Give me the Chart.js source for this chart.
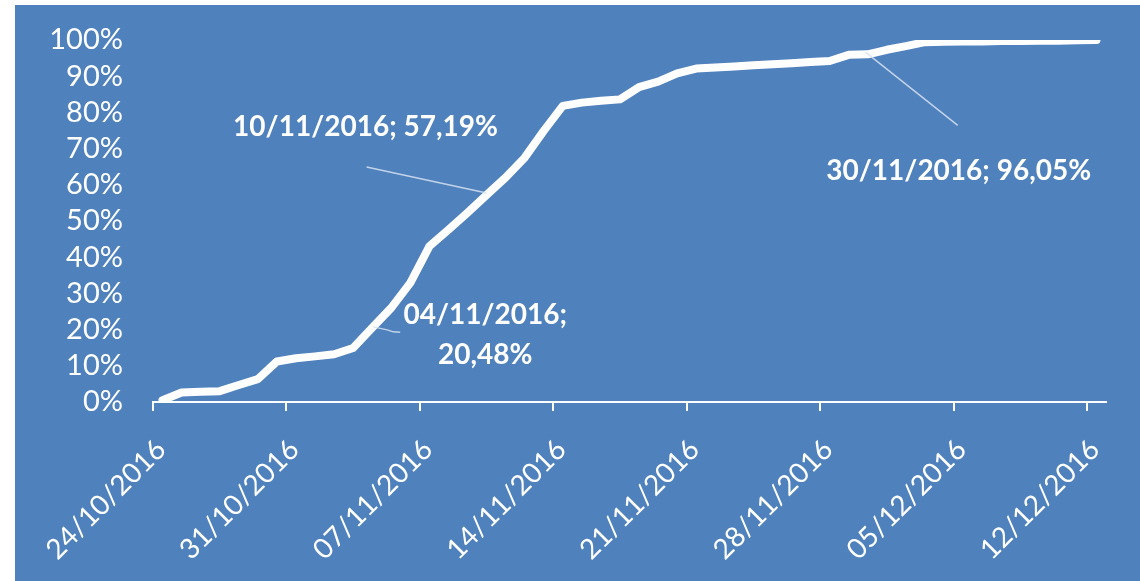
<!DOCTYPE html>
<html>
<head>
<meta charset="utf-8">
<script src="https://cdn.jsdelivr.net/npm/chart.js@4"></script>
<style>
  html, body { margin: 0; padding: 0; background: #ffffff; }
  #box { position: absolute; left: 15px; top: 5px; width: 1125px; height: 576px; background: #4f81bd; }
  canvas { display: block; }
</style>
</head>
<body>
<div id="box"><canvas id="chart" width="1125" height="576"></canvas></div>
<script>
// cumulative share, one value per day starting 24/10/2016
const values = [
    0.5, 2.6, 2.8, 3.0, 4.7, 6.3, 11.2, 12.1, 12.6, 13.2,
    14.9, 20.48, 26.0, 32.9, 43.0, 47.6, 52.3, 57.19, 62.0, 67.5,
    74.9, 81.8, 82.7, 83.2, 83.6, 87.0, 88.5, 90.8, 92.1, 92.4,
    92.7, 93.0, 93.3, 93.6, 93.9, 94.2, 95.9, 96.05, 97.3, 98.3,
    99.4, 99.5, 99.6, 99.6, 99.7, 99.7, 99.8, 99.8, 99.9, 100
];
const tickLabels = ['24/10/2016', '31/10/2016', '07/11/2016', '14/11/2016',
    '21/11/2016', '28/11/2016', '05/12/2016', '12/12/2016'];
const yTicks = [0, 10, 20, 30, 40, 50, 60, 70, 80, 90, 100];

// data labels: day index, text lines
const notes = [
    { day: 17, lines: ['10/11/2016; 57,19%'] },
    { day: 37, lines: ['30/11/2016; 96,05%'] },
    { day: 11, lines: ['04/11/2016;', '20,48%'] }
];
// where each label sits relative to its point
const noteStyle = {
    17: { text: [[-121, -68]], leader: [[-120, -28], [0, -2]] },
    37: { text: [[91, 117]], leader: [[90, 71], [-2, -2]] },
    11: { text: [[113, -13], [113, 27]], leader: [[1, -1], [15, 2], [21, 4], [28, 4.5]] }
};

const labelPlugin = {
    id: 'notes',
    afterDatasetsDraw(chart) {
        const ctx = chart.ctx;
        const xs = chart.scales.x, ys = chart.scales.y;
        ctx.save();
        notes.forEach(n => {
            const px = xs.getPixelForValue(n.day + 0.5);
            const py = ys.getPixelForValue(values[n.day]);
            const st = noteStyle[n.day];
            ctx.strokeStyle = 'rgba(215,226,240,0.85)';
            ctx.lineWidth = 1.5;
            ctx.beginPath();
            st.leader.forEach((p, i) => {
                if (i === 0) ctx.moveTo(px + p[0], py + p[1]);
                else ctx.lineTo(px + p[0], py + p[1]);
            });
            ctx.stroke();
            ctx.fillStyle = '#ffffff';
            ctx.font = 'bold 28px Lato';
            ctx.textAlign = 'center';
            ctx.textBaseline = 'middle';
            n.lines.forEach((t, i) => {
                ctx.fillText(t, px + st.text[i][0], py + st.text[i][1]);
            });
        });
        ctx.restore();
    }
};

new Chart(document.getElementById('chart'), {
    type: 'line',
    data: {
        datasets: [{
            data: values.map((v, i) => ({ x: i + 0.5, y: v })),
            borderColor: '#ffffff',
            borderWidth: 8,
            borderCapStyle: 'round',
            borderJoinStyle: 'round',
            pointRadius: 0,
            tension: 0,
            fill: false
        }]
    },
    options: {
        responsive: false,
        animation: false,
        layout: { padding: { left: 0, top: 35, right: 34, bottom: 0 } },
        plugins: { legend: { display: false }, tooltip: { enabled: false } },
        scales: {
            x: {
                type: 'linear',
                min: 0,
                max: 50,
                afterBuildTicks: s => { s.ticks = tickLabels.map((_, i) => ({ value: i * 7 })); },
                afterFit: s => {
                    s.height = 179;
                    s.paddingLeft = 0;
                    s.paddingRight = 0;
                },
                grid: { display: true, drawOnChartArea: false, color: '#ffffff', lineWidth: 2, tickLength: 9 },
                border: { display: true, color: '#ffffff', width: 2 },
                ticks: {
                    color: '#ffffff',
                    font: { family: 'Lato', size: 28 },
                    minRotation: 45,
                    maxRotation: 45,
                    labelOffset: 8,
                    padding: 22,
                    autoSkip: false,
                    callback: v => tickLabels[Math.round(v / 7)]
                }
            },
            y: {
                min: 0,
                max: 100,
                afterBuildTicks: s => { s.ticks = yTicks.map(v => ({ value: v })); },
                afterFit: s => {
                    s.width = 138;
                    s.paddingTop = 0;
                    s.paddingBottom = 0;
                },
                grid: { display: false, drawTicks: false },
                border: { display: false },
                ticks: {
                    color: '#ffffff',
                    font: { family: 'Lato', size: 29 },
                    padding: 30,
                    autoSkip: false,
                    callback: v => v + '%'
                }
            }
        }
    },
    plugins: [labelPlugin]
});
</script>
</body>
</html>
